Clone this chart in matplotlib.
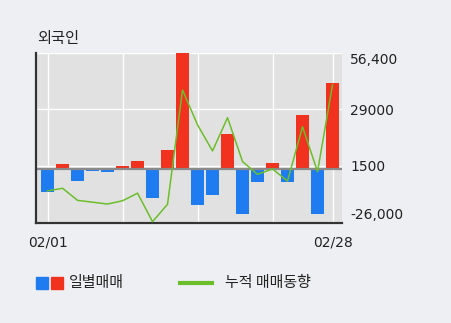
import numpy as np
import matplotlib
matplotlib.use("Agg")
import matplotlib.pyplot as plt
import matplotlib.patches as mpatches
from matplotlib.lines import Line2D

plt.rcParams['font.family'] = ['DejaVu Sans', 'Noto Sans CJK KR']
KR = ['Noto Sans CJK KR', 'DejaVu Sans']

# daily net buying of foreigners, Feb (20 trading days)
daily = [-11100, 2300, -5700, -1000, -1500, 1600, 4000, -14000, 9400, 57000,
         -17600, -12700, 16900, -21800, -6200, 3100, -6200, 26300, -21800, 42100]
# cumulative trend line
cumulative = [-10700, -9400, -15300, -16200, -17100, -15500, -11800, -25700, -17200, 38500,
              21500, 8800, 25000, 3600, -2600, 0, -5900, 20600, -1300, 41000]
x_ticks = [0, 5, 10, 15, 19]
x_labels = ['02/01', '', '', '', '02/28']
y_ticks = [56400, 29000, 1500, -26000]
y_labels = ['56,400', '29000', '1500', '-26,000']

BLUE = '#1e7cf0'
RED = '#f0321e'
GREEN = '#6cbe2a'

fig = plt.figure(figsize=(4.51, 3.23), dpi=100, facecolor='#eeeff3')
ax = fig.add_axes([0.0798, 0.3105, 0.6778, 0.5245])
ax.set_facecolor('#e1e1e1')

x = np.arange(len(daily))
vals = np.array(daily)
colors = [RED if v > 0 else BLUE for v in vals]
ax.bar(x, vals, width=0.85, color=colors, zorder=2)
ax.axhline(0, color='#8a8a8a', lw=1.6, zorder=2.5)
ax.plot(x, cumulative, color=GREEN, lw=1.1, zorder=3)

ax.set_xlim(-0.77, 19.61)
ax.set_ylim(-26200, 56400)
ax.set_xticks(x_ticks)
ax.set_xticklabels(x_labels, fontsize=10)
ax.yaxis.tick_right()
ax.set_yticks(y_ticks)
ax.set_yticklabels(y_labels, fontsize=10)
lbls = ax.get_yticklabels()
lbls[0].set_va('top')
lbls[-1].set_va('bottom')
ax.tick_params(axis='x', length=0, pad=9, colors='#222222')
ax.tick_params(axis='y', length=0, pad=6, colors='#222222')
ax.grid(True, color='white', lw=1, zorder=1)
ax.set_axisbelow(True)

for s in ['top', 'right']:
    ax.spines[s].set_visible(False)
ax.spines['left'].set_color('#333333')
ax.spines['left'].set_linewidth(1.6)
ax.spines['bottom'].set_color('#333333')
ax.spines['bottom'].set_linewidth(1.6)

fig.text(0.083, 0.882, '외국인', fontsize=11, family=KR, va='center', color='#222222')

# legend
fig.patches.append(mpatches.Rectangle((0.0798, 0.1053), 0.026, 0.0362, color=BLUE,
                                      transform=fig.transFigure))
fig.patches.append(mpatches.Rectangle((0.1131, 0.1053), 0.026, 0.0362, color=RED,
                                      transform=fig.transFigure))
fig.text(0.153, 0.1248, '일별매매', fontsize=10.8, family=KR, va='center', color='#222222')
fig.lines.append(Line2D([0.399, 0.469], [0.1248, 0.1248], color=GREEN, lw=3,
                        transform=fig.transFigure))
fig.text(0.4989, 0.1248, '누적 매매동향', fontsize=10.8, family=KR, va='center', color='#222222')

fig.savefig('out.png', dpi=100, facecolor=fig.get_facecolor())
